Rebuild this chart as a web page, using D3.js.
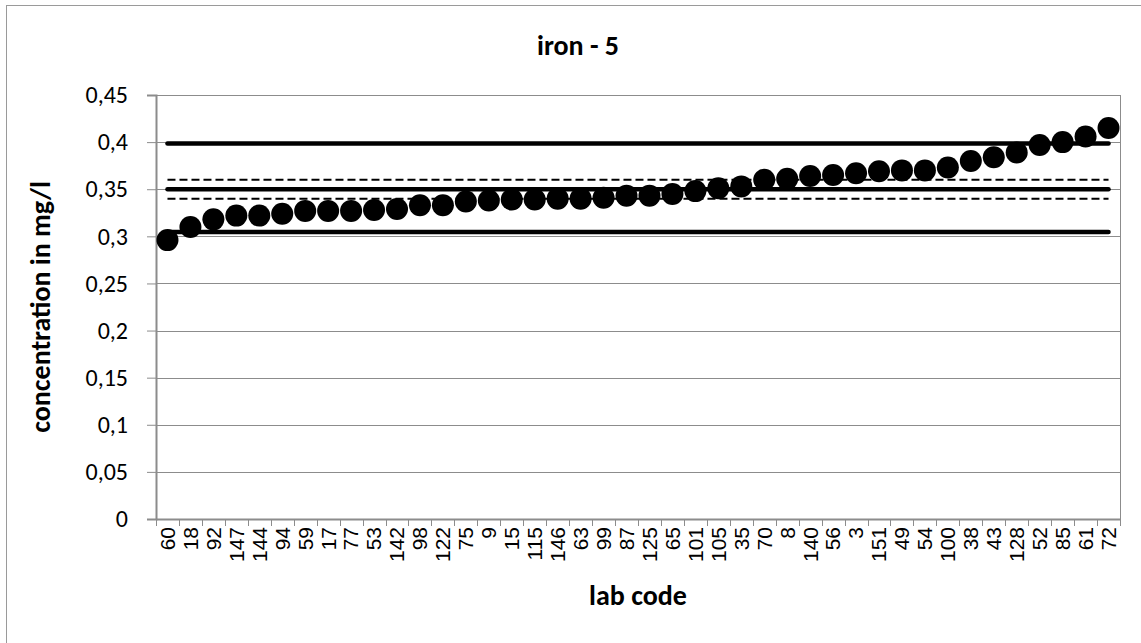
<!DOCTYPE html>
<html>
<head>
<meta charset="utf-8">
<script src="https://cdn.jsdelivr.net/npm/d3@7"></script>
<style>
  html, body { margin: 0; padding: 0; background: #fff; }
  svg { display: block; }
</style>
</head>
<body>
<svg id="chart" width="1141" height="643"></svg>
<script>
// ---- data ----
const labCodes = ["60","18","92","147","144","94","59","17","77","53","142","98","122","75","9","15","115","146","63","99","87","125","65","101","105","35","70","8","140","56","3","151","49","54","100","38","43","128","52","85","61","72"];
const concentrations = [0.296,0.310,0.318,0.322,0.322,0.324,0.327,0.327,0.327,0.328,0.329,0.333,0.333,0.337,0.338,0.339,0.339,0.340,0.340,0.341,0.343,0.343,0.345,0.348,0.351,0.353,0.360,0.361,0.364,0.365,0.367,0.369,0.370,0.370,0.373,0.380,0.384,0.389,0.397,0.400,0.406,0.415];
const assignedValue = 0.35;
const upperLimit = 0.3985;
const lowerLimit = 0.3045;
const upperUncertainty = 0.36;
const lowerUncertainty = 0.34;
const yTicks = [0,0.05,0.1,0.15,0.2,0.25,0.3,0.35,0.4,0.45];
const titleText = "iron - 5";
const xTitle = "lab code";
const yTitle = "concentration in mg/l";

// ---- layout ----
const svg = d3.select("#chart");
const L = 156, R = 1120, T = 95, B = 519;
const x = d3.scaleBand().domain(labCodes).range([L, R]).padding(0);
const y = d3.scaleLinear().domain([0, 0.45]).range([B, T]);
const gridColor = "#8c8c8c";
const calibri = "Carlito, Calibri, 'Open Sans', sans-serif";

// chart area border
svg.append("rect").attr("x", 6.5).attr("y", 5.5).attr("width", 1150).attr("height", 660)
  .attr("fill", "#fff").attr("stroke", "#9a9a9a").attr("stroke-width", 1);

// gridlines
svg.append("g").selectAll("line").data(yTicks.filter(d => d > 0)).join("line")
  .attr("x1", L).attr("x2", R)
  .attr("y1", d => Math.round(y(d)) + 0.5).attr("y2", d => Math.round(y(d)) + 0.5)
  .attr("stroke", gridColor).attr("stroke-width", 1);
// right border of plot
svg.append("line").attr("x1", R + 0.5).attr("x2", R + 0.5).attr("y1", T).attr("y2", B)
  .attr("stroke", gridColor).attr("stroke-width", 1);

// y axis
const yAxis = d3.axisLeft(y).tickValues(yTicks).tickSize(9).tickPadding(19)
  .tickFormat(d => String(+d.toFixed(2)).replace(".", ","));
const gy = svg.append("g").attr("transform", `translate(${L},0)`).call(yAxis);
gy.select(".domain").attr("stroke", gridColor).attr("stroke-width", 2);
gy.selectAll(".tick line").attr("stroke", gridColor).attr("stroke-width", 1);
gy.selectAll(".tick text").attr("font-family", calibri).attr("font-size", 24).attr("fill", "#000");

// x axis
const xAxis = d3.axisBottom(x).tickSize(0).tickPadding(0);
const gx = svg.append("g").attr("transform", `translate(0,${B})`).call(xAxis);
gx.select(".domain").attr("stroke", gridColor).attr("stroke-width", 2);
gx.selectAll(".tick text")
  .attr("font-family", "'Liberation Sans', Arial, sans-serif").attr("font-size", 21).attr("fill", "#000")
  .attr("transform", "rotate(-90)").attr("text-anchor", "end")
  .attr("x", -8).attr("y", 0).attr("dy", "0.35em");
// category boundary ticks
svg.append("g").selectAll("line").data(labCodes.concat(["_end"])).join("line")
  .attr("x1", (d, i) => Math.round(L + i * x.bandwidth()) + 0.5)
  .attr("x2", (d, i) => Math.round(L + i * x.bandwidth()) + 0.5)
  .attr("y1", B).attr("y2", B + 7)
  .attr("stroke", gridColor).attr("stroke-width", 1);

// reference lines
const cx = d => x(d) + x.bandwidth() / 2;
function refLine(val, width, dash) {
  const line = d3.line().x(d => cx(d)).y(() => y(val));
  svg.append("path").datum(labCodes).attr("d", line)
    .attr("fill", "none").attr("stroke", "#000").attr("stroke-width", width)
    .attr("stroke-linecap", dash ? "butt" : "round")
    .attr("stroke-dasharray", dash || null);
}
refLine(upperLimit, 4.5, null);
refLine(lowerLimit, 4.5, null);
refLine(assignedValue, 4.5, null);
refLine(upperUncertainty, 2, "8,4");
refLine(lowerUncertainty, 2, "8,4");

// points
svg.append("g").selectAll("circle").data(labCodes).join("circle")
  .attr("cx", d => cx(d))
  .attr("cy", (d, i) => y(concentrations[i]))
  .attr("r", 11).attr("fill", "#000");

// titles
svg.append("text").attr("x", 578).attr("y", 55).attr("text-anchor", "middle")
  .attr("font-family", calibri).attr("font-weight", "bold").attr("font-size", 28).text(titleText);
svg.append("text").attr("x", (L + R) / 2).attr("y", 605).attr("text-anchor", "middle")
  .attr("font-family", calibri).attr("font-weight", "bold").attr("font-size", 28).text(xTitle);
svg.append("text").attr("transform", `translate(50,${(T + B) / 2}) rotate(-90)`).attr("text-anchor", "middle")
  .attr("font-family", calibri).attr("font-weight", "bold").attr("font-size", 28).text(yTitle);
</script>
</body>
</html>
